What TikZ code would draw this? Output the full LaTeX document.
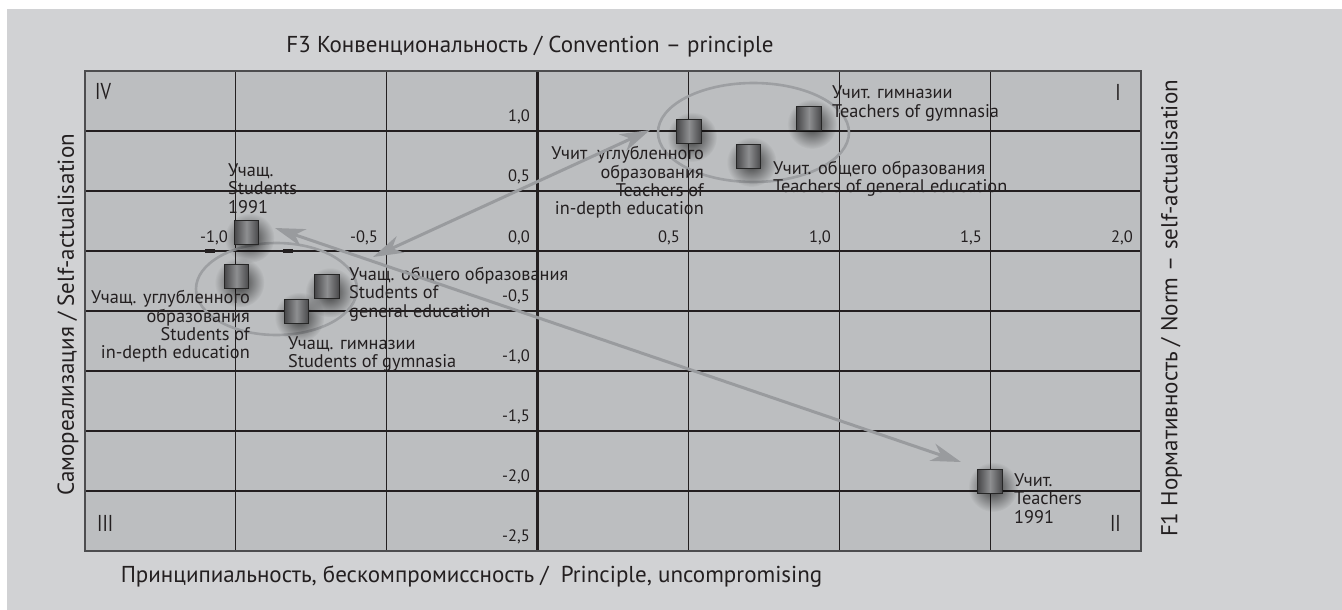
\documentclass[tikz,border=0pt]{standalone}
\usepackage{fontspec}
\setmainfont{PT Sans}
\usetikzlibrary{arrows.meta,fadings,shapes.geometric}
\definecolor{bgout}{HTML}{D1D2D4}
\definecolor{plotbg}{HTML}{BCBEC0}
\definecolor{ink}{HTML}{231F20}
\definecolor{framec}{HTML}{4D4D4F}
\definecolor{ellc}{HTML}{9D9FA2}
\definecolor{arrc}{HTML}{999B9E}
\definecolor{sqdark}{HTML}{48484A}
\definecolor{sqmid}{HTML}{8E8F91}
\tikzfading[name=glowfade, inner color=transparent!30, outer color=transparent!100]
\begin{document}
\begin{tikzpicture}[x=1pt,y=-1pt,
  gridline/.style={draw=ink, line width=1.1pt},
  axisline/.style={draw=ink, line width=2.2pt},
  frameline/.style={draw=framec, line width=2pt},
  errbar/.style={draw=ink, line width=2.4pt},
  tick/.style={text=ink, font=\fontsize{16.5}{19}\selectfont, inner sep=0pt, anchor=east},
  lbl/.style={text=ink, font=\fontsize{18.3}{18.4}\selectfont, inner sep=0pt},
  big/.style={text=ink, font=\fontsize{23}{26}\selectfont, inner sep=0pt},
  roman/.style={text=ink, font=\fontsize{23}{25}\selectfont, inner sep=0pt, xscale=0.8},
  sq/.style={rectangle, minimum width=24.5pt, minimum height=24pt, inner sep=0pt,
    left color=sqdark, right color=sqdark, middle color=sqmid, draw=black!85, line width=0.8pt},
  glow/.style={fill=black, path fading=glowfade},
  cluster/.style={draw=ellc, line width=2.6pt, ellipse, inner sep=0pt},
  conn/.style={draw=arrc, line width=3pt,
    {Stealth[length=30pt,width=18pt,inset=9pt]}-{Stealth[length=30pt,width=18pt,inset=9pt]}}
]
\useasboundingbox (0,0) rectangle (1342,610);
\fill[white] (0,0) rectangle (1342,610);
\fill[bgout] (7,9) rectangle (1342,610);
\fill[plotbg] (85,71) rectangle (1141,551);
% grid
\foreach \x in {235.86,386.71,688.43,839.29,990.14} \draw[gridline] (\x,71) -- (\x,551);
\foreach \y in {131,191,311,371,431,491} \draw[gridline] (85,\y) -- (1141,\y);
\draw[axisline] (537.57,71) -- (537.57,551);
\draw[axisline] (85,251) -- (1141,251);
\draw[frameline] (85,71) rectangle (1141,551);
% error bars
\draw[errbar] (718,131) -- (796,131);
\draw[errbar] (718,191) -- (776,191);
\draw[ink, line width=4pt] (205,251) -- (215,251);
\draw[ink, line width=4pt] (283,251) -- (293,251);
% tick labels
\node[tick] (xm10) at (228,238) {-1,0};
\node[tick] (xm05) at (378,238) {-0,5};
\node[tick] (x00) at (530,238) {0,0};
\node[tick] (x05) at (680,238) {0,5};
\node[tick] (x10) at (831,238) {1,0};
\node[tick] (x15) at (982,238) {1,5};
\node[tick] (x20) at (1133,238) {2,0};
\node[tick] (y10) at (530,117) {1,0};
\node[tick] (y05) at (530,177) {0,5};
\node[tick] (ym05) at (530,297) {-0,5};
\node[tick] (ym10) at (530,357) {-1,0};
\node[tick] (ym15) at (530,417) {-1,5};
\node[tick] (ym20) at (530,477) {-2,0};
\node[tick] (ym25) at (530,537) {-2,5};
% quadrant numerals
\node[roman, anchor=west] (q4) at (95,92) {IV};
\node[roman, anchor=east] (q1) at (1121,92) {I};
\node[roman, anchor=west] (q3) at (97,523) {III};
\node[roman, anchor=east] (q2) at (1121,523) {II};
% axis titles
\node[big] (ttop) at (530,47) {F3 Конвенциональность / Convention – principle};
\node[big] (tbot) at (471.5,577) {Принципиальность, бескомпромиссность /\ \ Principle, uncompromising};
\node[big, rotate=90] (tleft) at (68,315) {Самореализация / Self-actualisation};
\node[big, rotate=90] (tright) at (1171.5,308.5) {F1 Нормативность / Norm – self-actualisation};
% clusters
\node[cluster, minimum width=161pt, minimum height=92pt] (cs) at (276.5,289) {};
\node[cluster, minimum width=191pt, minimum height=99pt] (ct) at (753.5,132.5) {};
% data point positions
\coordinate (p-s91) at (246.5,232);
\coordinate (p-sin) at (236.5,276.5);
\coordinate (p-sgen) at (327,286.5);
\coordinate (p-sgym) at (296.5,311);
\coordinate (p-tin) at (689,131);
\coordinate (p-tgen) at (748.5,156);
\coordinate (p-tgym) at (809,118);
\coordinate (p-t91) at (990,481);
% glows
\foreach \p in {s91,sin,sgen,sgym,tin,tgen,tgym,t91}
  \fill[glow] ([shift={(3,6)}]p-\p) circle (25);
% squares
\foreach \p in {s91,sin,sgen,sgym,tin,tgen,tgym,t91}
  \node[sq] (\p) at (p-\p) {};
% labels
\node[lbl, align=left, anchor=west] (l-s91) at (228,188.5) {Учащ.\\Students\\1991};
\node[lbl, align=right, anchor=east] (l-sin) at (250,326.5) {Учащ. углубленного\\образования\\Students of\\in-depth education};
\node[lbl, align=left, anchor=west] (l-sgen) at (349,294) {Учащ. общего образования\\Students of\\general education};
\node[lbl, align=left, anchor=west] (l-sgym) at (288,354) {Учащ. гимназии\\Students of gymnasia};
\node[lbl, align=right, anchor=east] (l-tin) at (704,182.5) {Учит\ \ углубленного\\образования\\Teachers of\\in-depth education};
\node[lbl, align=left, anchor=west] (l-tgen) at (773,179) {Учит. общего образования\\Teachers of general education};
\node[lbl, align=left, anchor=west] (l-tgym) at (832,103.5) {Учит. гимназии\\Teachers of gymnasia};
\node[lbl, align=left, anchor=west] (l-t91) at (1014,498.5) {Учит.\\Teachers\\1991};
% connectors
\coordinate (a1s) at (373,257);
\coordinate (a1t) at (650,130);
\coordinate (a2s) at (275,228);
\coordinate (a2t) at (961,462);
\draw[conn] (a1s) -- (a1t);
\draw[conn] (a2s) -- (a2t);
\end{tikzpicture}
\end{document}
